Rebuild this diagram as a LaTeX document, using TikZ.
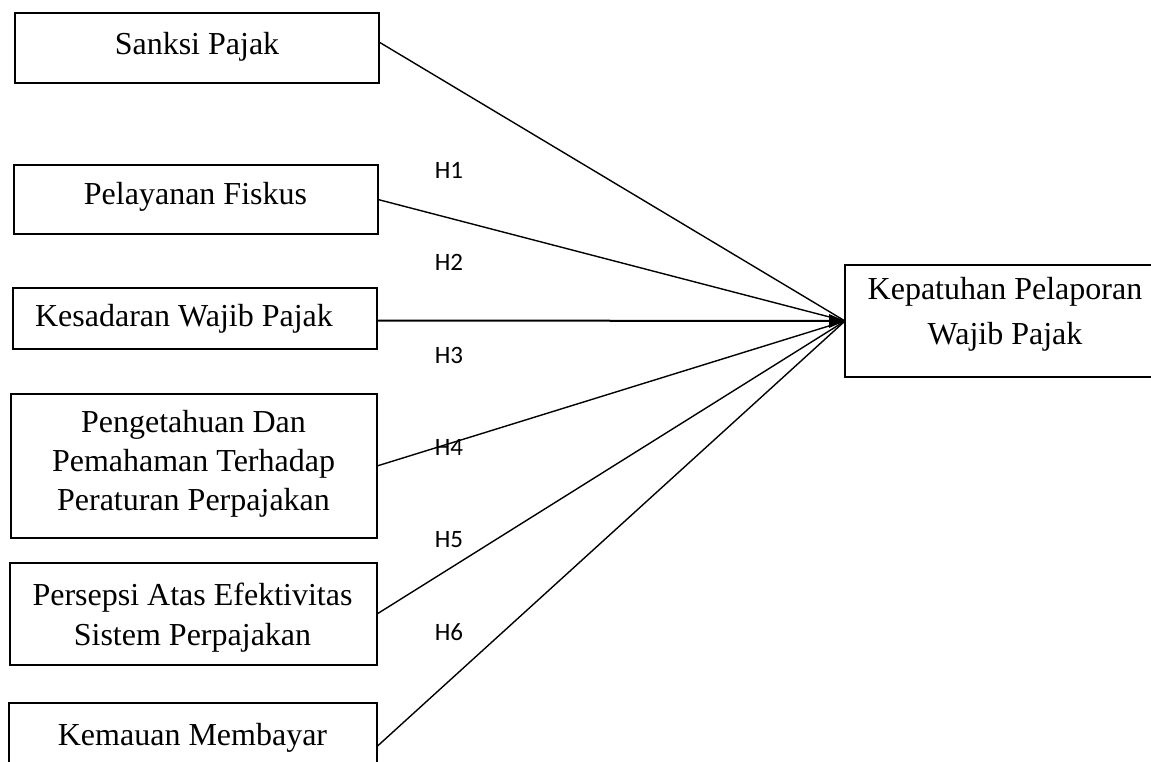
\documentclass[tikz,border=0pt]{standalone}
\usepackage{fontspec}
\setmainfont{Liberation Serif}
\newfontfamily\labfont{Carlito}
\usetikzlibrary{arrows.meta}
\tikzset{
  box/.style={draw, line width=1.5pt, rectangle, inner sep=0pt, outer sep=0pt},
  txt/.style={anchor=base, inner sep=0pt, font=\fontsize{32pt}{39pt}\selectfont},
  hlab/.style={inner sep=0pt, font=\labfont\fontsize{25pt}{30pt}\selectfont},
  conn/.style={line width=1.4pt},
  mainconn/.style={line width=2pt}
}
\begin{document}
\begin{tikzpicture}[x=1pt,y=-1pt]
\useasboundingbox (0,0) rectangle (1151,762);
% boxes
\node[box, minimum width=364pt, minimum height=70pt] (sanksi) at (197,48) {};
\node[box, minimum width=364pt, minimum height=69pt] (fiskus) at (196,199.5) {};
\node[box, minimum width=364pt, minimum height=61pt] (sadar) at (195,318.5) {};
\node[box, minimum width=366pt, minimum height=144pt] (tahu) at (194,466) {};
\node[box, minimum width=367pt, minimum height=102pt] (persepsi) at (193.5,614) {};
\node[box, minimum width=368pt, minimum height=87pt] (mau) at (193,746.5) {};
\node[box, minimum width=308pt, minimum height=112pt] (patuh) at (999,321) {};
% texts
\node[txt] (t1) at (197,55) {Sanksi Pajak};
\node[txt] (t2) at (195.5,205) {Pelayanan Fiskus};
\node[txt] (t3) at (184,326) {Kesadaran Wajib Pajak};
\node[txt] (t4a) at (193.5,432) {Pengetahuan Dan};
\node[txt] (t4b) at (193.5,471) {Pemahaman Terhadap};
\node[txt] (t4c) at (193.5,510) {Peraturan Perpajakan};
\node[txt] (t5a) at (192.5,605) {Persepsi Atas Efektivitas};
\node[txt] (t5b) at (192.5,645) {Sistem Perpajakan};
\node[txt] (t6) at (192.5,745) {Kemauan Membayar};
\node[txt] (t7a) at (1005,299) {Kepatuhan Pelaporan};
\node[txt] (t7b) at (1005,344) {Wajib Pajak};
% connectors
\draw[conn] ([yshift=6pt]sanksi.east) -- (patuh.west);
\draw[conn] (fiskus.east) -- (patuh.west);
\draw[conn] (tahu.east) -- (patuh.west);
\draw[conn] (persepsi.east) -- (patuh.west);
\draw[conn] (mau.east) -- (patuh.west);
\draw[mainconn] ([yshift=-2pt]sadar.east) -- (patuh.west);
% arrowhead
\fill (patuh.west) -- ++(-16,-7) -- ++(0,14) -- cycle;
% hypothesis labels
\node[hlab] (h1) at (449,170) {H1};
\node[hlab] (h2) at (449,262) {H2};
\node[hlab] (h3) at (449,355) {H3};
\node[hlab] (h4) at (449,447) {H4};
\node[hlab] (h5) at (449,540) {H5};
\node[hlab] (h6) at (449,632) {H6};
\end{tikzpicture}
\end{document}
